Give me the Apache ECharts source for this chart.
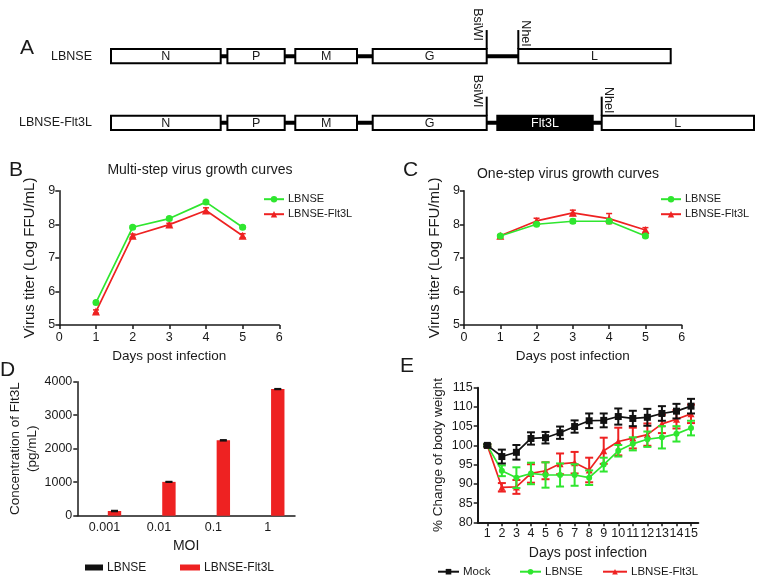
<!DOCTYPE html>
<html><head><meta charset="utf-8">
<script src="https://cdn.jsdelivr.net/npm/echarts@6/dist/echarts.min.js"></script>
<style>html,body{margin:0;padding:0;background:#fff}#c{width:760px;height:588px}</style>
</head><body><div id="c"></div>
<script>
// ---------- Panel A: genome schematic (schematic units) ----------
const constructs = ['LBNSE', 'LBNSE-Flt3L'];
const genesLBNSE = [['N', 0, 109.7], ['P', 116.4, 173.7], ['M', 184.3, 246], ['G', 261.7, 375.7], ['L', 407.3, 559.7]];
const genesFlt3L = [['N', 0, 109.7], ['P', 116.4, 173.7], ['M', 184.3, 246], ['G', 261.7, 375.7], ['Flt3L', 386.3, 481.7], ['L', 490.7, 643]];
const insertedGenes = ['Flt3L'];
const sitesLBNSE = [['BsiWI', 375.7], ['NheI', 407.3]];
const sitesFlt3L = [['BsiWI', 375.7], ['NheI', 490.7]];

// ---------- Panels B, C: growth curves ----------
const daysBC = [1, 2, 3, 4, 5];
const multiLBNSE = [5.67, 7.91, 8.17, 8.66, 7.91];
const multiLBNSEsd = [0.04, 0.04, 0.04, 0.04, 0.04];
const multiFlt3L = [5.40, 7.66, 7.99, 8.41, 7.66];
const multiFlt3Lsd = [0.05, 0.05, 0.04, 0.08, 0.06];
const oneLBNSE = [7.65, 8.00, 8.09, 8.09, 7.65];
const oneLBNSEsd = [0.03, 0.04, 0.06, 0.06, 0.04];
const oneFlt3L = [7.66, 8.10, 8.34, 8.17, 7.83];
const oneFlt3Lsd = [0.03, 0.08, 0.08, 0.15, 0.07];

// ---------- Panel D: Flt3L concentration ----------
const mois = ['0.001', '0.01', '0.1', '1'];
const concLBNSE = [0, 0, 0, 0];
const concFlt3L = [140, 1010, 2250, 3780];
const concFlt3Lsd = [15, 10, 15, 12];

// ---------- Panel E: body weight ----------
const daysE = [1, 2, 3, 4, 5, 6, 7, 8, 9, 10, 11, 12, 13, 14, 15];
const wMock = [100, 97.1, 98.2, 101.8, 102.0, 103.3, 104.9, 106.4, 106.5, 107.5, 107.0, 107.3, 108.3, 108.9, 110.2];
const wMockSd = [0.3, 1.8, 1.9, 1.6, 1.5, 1.6, 1.6, 1.9, 1.8, 2.1, 2.0, 2.2, 1.9, 1.9, 1.9];
const wLBNSE = [100, 93.4, 91.6, 92.7, 92.3, 92.3, 92.3, 91.6, 95.0, 98.6, 100.4, 101.6, 102.1, 103.0, 104.5];
const wLBNSESd = [0.3, 1.4, 2.7, 2.8, 3.3, 3.0, 2.8, 1.9, 1.8, 1.5, 1.7, 2.0, 2.9, 2.0, 1.9];
const wFlt3L = [100, 89.1, 89.2, 92.7, 93.4, 95.2, 95.5, 93.6, 98.6, 101.0, 101.9, 102.8, 105.6, 106.8, 108.2];
const wFlt3LSd = [0.3, 1.1, 1.8, 2.4, 2.2, 2.7, 2.8, 3.2, 3.4, 3.6, 2.7, 2.9, 2.4, 2.4, 2.4];

// ---------- styles ----------
const FF = '"Liberation Sans", Arial, Helvetica, sans-serif';
const TXT = '#1a1a1a';
const AX = '#1a1a1a';
const GREEN = '#2fe62f';
const RED = '#ee2222';
const BLACK = '#111111';

const chart = echarts.init(document.getElementById('c'), null, {renderer: 'canvas'});

function valAxis(gridIndex, min, max, interval, extra) {
  return Object.assign({
    type: 'value', gridIndex, min, max, interval,
    axisLine: {show: true, onZero: false, lineStyle: {color: AX, width: 1.5}},
    axisTick: {show: true, length: 4, lineStyle: {color: AX, width: 1.5}},
    axisLabel: {color: TXT, fontSize: 12, margin: 5, fontFamily: FF},
    splitLine: {show: false},
    nameLocation: 'middle',
    nameTextStyle: {color: TXT, fontSize: 13.5, fontFamily: FF}
  }, extra || {});
}

// ---------- panel A rendering ----------
const BOX_H = 14.3;
const geneRows = [genesLBNSE, genesFlt3L];
const siteRows = [sitesLBNSE, sitesFlt3L];
const geneItems = [];
geneRows.forEach((g, r) => g.forEach(x => geneItems.push({name: x[0], value: [x[1], r, x[2]]})));
const backboneItems = geneRows.map((g, r) => ({value: [Math.min(...g.map(x => x[1])), r, Math.max(...g.map(x => x[2]))]}));
const siteItems = [];
siteRows.forEach((s, r) => s.forEach(x => siteItems.push({name: x[0], value: [x[1], r]})));
const siteLabelOffset = {BsiWI: {dx: -9, dy: -24.5}, NheI: {dx: 7, dy: -15.5}};

function renderBackbone(params, api) {
  const a = api.coord([api.value(0), api.value(1)]);
  const b = api.coord([api.value(2), api.value(1)]);
  return {type: 'line', shape: {x1: a[0], y1: a[1], x2: b[0], y2: b[1]}, style: {stroke: '#000', lineWidth: 4}};
}
function renderGene(params, api) {
  const item = geneItems[params.dataIndex];
  const a = api.coord([api.value(0), api.value(1)]);
  const b = api.coord([api.value(2), api.value(1)]);
  const ins = insertedGenes.indexOf(item.name) >= 0;
  return {type: 'group', children: [
    {type: 'rect', shape: {x: a[0], y: a[1] - BOX_H / 2, width: b[0] - a[0], height: BOX_H},
      style: {fill: ins ? '#000' : '#fff', stroke: '#000', lineWidth: 2}},
    {type: 'text', x: (a[0] + b[0]) / 2, y: a[1] + 0.5,
      style: {text: item.name, fill: ins ? '#fff' : TXT, font: '12.5px ' + FF, align: 'center', verticalAlign: 'middle'}}
  ]};
}
function renderSite(params, api) {
  const item = siteItems[params.dataIndex];
  const p = api.coord([api.value(0), api.value(1)]);
  const top = p[1] - BOX_H / 2;
  const off = siteLabelOffset[item.name];
  return {type: 'group', children: [
    {type: 'line', shape: {x1: p[0], y1: top, x2: p[0], y2: top - 19}, style: {stroke: '#000', lineWidth: 2}},
    {type: 'text', x: p[0] + off.dx, y: top + off.dy, rotation: -Math.PI / 2,
      style: {text: item.name, fill: TXT, font: '12.5px ' + FF, align: 'center', verticalAlign: 'middle'}}
  ]};
}

// ---------- error bars ----------
function errBars(xi, yi, xs, ys, sd, color, capW, lw, z, xOffset) {
  return {
    type: 'custom', xAxisIndex: xi, yAxisIndex: yi, z: z, silent: true,
    encode: {x: 0, y: [1, 2]},
    data: xs.map((x, i) => [x, ys[i] - sd[i], ys[i] + sd[i]]),
    renderItem: function (params, api) {
      const lo = api.coord([api.value(0), api.value(1)]);
      const hi = api.coord([api.value(0), api.value(2)]);
      const dx = xOffset || 0;
      const x = lo[0] + dx;
      const st = {stroke: color, lineWidth: lw};
      return {type: 'group', children: [
        {type: 'line', shape: {x1: x, y1: lo[1], x2: x, y2: hi[1]}, style: st},
        {type: 'line', shape: {x1: x - capW / 2, y1: lo[1], x2: x + capW / 2, y2: lo[1]}, style: st},
        {type: 'line', shape: {x1: x - capW / 2, y1: hi[1], x2: x + capW / 2, y2: hi[1]}, style: st}
      ]};
    }
  };
}
function lineSeries(name, xi, yi, xs, ys, color, symbol, size, z) {
  return {type: 'line', name, xAxisIndex: xi, yAxisIndex: yi, z: z,
    data: xs.map((x, i) => [x, ys[i]]),
    symbol, symbolSize: size, showSymbol: true,
    lineStyle: {color, width: 1.7}, itemStyle: {color, borderWidth: 0}};
}
function leg(name, left, cy, fs, iw, ih, icon) {
  return {left, top: cy - 7, padding: 0, itemWidth: iw, itemHeight: ih, itemGap: 0,
    data: [icon ? {name, icon} : name], selectedMode: false,
    formatter: n => n.split('|')[1],
    textStyle: {fontSize: fs, color: TXT, fontFamily: FF, padding: [0, 0, 0, -1]}};
}

const BAR_W = 13.4, BAR_GAP = 0.49;
const axE = {show: true, onZero: false, lineStyle: {color: AX, width: 2}};

const option = {
  animation: false,
  backgroundColor: '#fff',
  textStyle: {fontFamily: FF},
  grid: [
    {left: 111, top: 22.9, width: 643, height: 133.2},      // A
    {left: 59.3, top: 190.7, width: 220, height: 134.3},   // B
    {left: 464, top: 190.7, width: 217.7, height: 134.3},  // C
    {left: 77.3, top: 381.7, width: 217.7, height: 134},   // D
    {left: 477.7, top: 387.7, width: 220.6, height: 134.6} // E
  ],
  xAxis: [
    {type: 'value', gridIndex: 0, min: 0, max: 643, show: false},
    valAxis(1, 0, 6, 1, {name: 'Days post infection', nameGap: 24, axisLabel: {color: TXT, fontSize: 12.5, margin: 6, fontFamily: FF}}),
    valAxis(2, 0, 6, 1, {name: 'Days post infection', nameGap: 24, axisLabel: {color: TXT, fontSize: 12.5, margin: 6, fontFamily: FF}}),
    {type: 'category', gridIndex: 3, data: mois, name: 'MOI', nameLocation: 'middle', nameGap: 23,
      nameTextStyle: {color: TXT, fontSize: 14, fontFamily: FF},
      axisLine: {show: true, onZero: false, lineStyle: {color: AX, width: 1.5}}, axisTick: {show: false},
      axisLabel: {color: TXT, fontSize: 12.5, margin: 5, fontFamily: FF}},
    valAxis(4, 0.34, 15.5, 1, {name: 'Days post infection', nameGap: 24, axisLine: axE,
      nameTextStyle: {color: TXT, fontSize: 14, fontFamily: FF},
      axisLabel: {color: TXT, fontSize: 12.5, margin: 5, fontFamily: FF, customValues: daysE},
      axisTick: {show: true, length: 4, lineStyle: {color: AX, width: 1.5}, customValues: daysE}})
  ],
  yAxis: [
    {type: 'category', gridIndex: 0, data: constructs, inverse: true, axisLine: {show: false}, axisTick: {show: false},
      axisLabel: {color: TXT, fontSize: 12.5, margin: 19, fontFamily: FF}, splitLine: {show: false}},
    valAxis(1, 5, 9, 1, {name: 'Virus titer (Log FFU/mL)', nameGap: 22, nameTextStyle: {color: TXT, fontSize: 15, fontFamily: FF},
      axisLabel: {color: TXT, fontSize: 12.5, margin: 4, fontFamily: FF}}),
    valAxis(2, 5, 9, 1, {name: 'Virus titer (Log FFU/mL)', nameGap: 22, nameTextStyle: {color: TXT, fontSize: 15, fontFamily: FF},
      axisLabel: {color: TXT, fontSize: 12.5, margin: 4, fontFamily: FF}}),
    valAxis(3, 0, 4000, 1000, {name: 'Concentration of Flt3L\n(pg/mL)', nameGap: 37,
      nameTextStyle: {color: TXT, fontSize: 13.5, fontFamily: FF, lineHeight: 17},
      axisLabel: {color: TXT, fontSize: 12.5, margin: 5, fontFamily: FF, formatter: v => String(v)}}),
    valAxis(4, 80, 115, 5, {name: '% Change of body weight', nameGap: 32, axisLine: axE,
      nameTextStyle: {color: TXT, fontSize: 13.5, fontFamily: FF},
      axisLabel: {color: TXT, fontSize: 12.5, margin: 5, fontFamily: FF}})
  ],
  legend: [
    leg('B|LBNSE', 263, 200.7, 11, 20, 8),
    leg('B|LBNSE-Flt3L', 263, 215.7, 11, 20, 8),
    leg('C|LBNSE', 660, 200.7, 11, 20, 8),
    leg('C|LBNSE-Flt3L', 660, 215.7, 11, 20, 8),
    leg('D|LBNSE', 85, 568.5, 12, 18, 6, 'rect'),
    leg('D|LBNSE-Flt3L', 180, 568.5, 12, 20, 6, 'rect'),
    leg('E|Mock', 437, 572.7, 11.5, 21, 7),
    leg('E|LBNSE', 519, 572.7, 11.5, 21, 7),
    leg('E|LBNSE-Flt3L', 602, 572.7, 11.5, 24, 7)
  ],
  graphic: [
    {type: 'text', x: 20, y: 48, style: {text: 'A', font: '21px ' + FF, fill: TXT, align: 'left', verticalAlign: 'middle'}},
    {type: 'text', x: 9, y: 170, style: {text: 'B', font: '21px ' + FF, fill: TXT, align: 'left', verticalAlign: 'middle'}},
    {type: 'text', x: 403, y: 170, style: {text: 'C', font: '21px ' + FF, fill: TXT, align: 'left', verticalAlign: 'middle'}},
    {type: 'text', x: 0, y: 370, style: {text: 'D', font: '21px ' + FF, fill: TXT, align: 'left', verticalAlign: 'middle'}},
    {type: 'text', x: 400, y: 366, style: {text: 'E', font: '21px ' + FF, fill: TXT, align: 'left', verticalAlign: 'middle'}},
    {type: 'text', x: 200, y: 170, style: {text: 'Multi-step virus growth curves', font: '14px ' + FF, fill: TXT, align: 'center', verticalAlign: 'middle'}},
    {type: 'text', x: 568, y: 174, style: {text: 'One-step virus growth curves', font: '14px ' + FF, fill: TXT, align: 'center', verticalAlign: 'middle'}}
  ],
  series: [
    // A
    {type: 'custom', xAxisIndex: 0, yAxisIndex: 0, z: 1, silent: true, data: backboneItems, renderItem: renderBackbone},
    {type: 'custom', xAxisIndex: 0, yAxisIndex: 0, z: 2, silent: true, data: geneItems, renderItem: renderGene},
    {type: 'custom', xAxisIndex: 0, yAxisIndex: 0, z: 3, silent: true, data: siteItems, renderItem: renderSite},
    // B
    errBars(1, 1, daysBC, multiFlt3L, multiFlt3Lsd, RED, 6, 1.5, 2),
    lineSeries('B|LBNSE-Flt3L', 1, 1, daysBC, multiFlt3L, RED, 'triangle', 8, 2),
    errBars(1, 1, daysBC, multiLBNSE, multiLBNSEsd, GREEN, 6, 1.5, 3),
    lineSeries('B|LBNSE', 1, 1, daysBC, multiLBNSE, GREEN, 'circle', 7, 3),
    // C
    errBars(2, 2, daysBC, oneFlt3L, oneFlt3Lsd, RED, 6, 1.5, 2),
    lineSeries('C|LBNSE-Flt3L', 2, 2, daysBC, oneFlt3L, RED, 'triangle', 8, 2),
    errBars(2, 2, daysBC, oneLBNSE, oneLBNSEsd, GREEN, 6, 1.5, 3),
    lineSeries('C|LBNSE', 2, 2, daysBC, oneLBNSE, GREEN, 'circle', 7, 3),
    // D
    {type: 'bar', name: 'D|LBNSE', xAxisIndex: 3, yAxisIndex: 3, data: concLBNSE, barWidth: BAR_W, barGap: (BAR_GAP * 100) + '%', itemStyle: {color: BLACK}},
    {type: 'bar', name: 'D|LBNSE-Flt3L', xAxisIndex: 3, yAxisIndex: 3, data: concFlt3L, barWidth: BAR_W, barGap: (BAR_GAP * 100) + '%', itemStyle: {color: RED}},
    errBars(3, 3, mois.map((m, i) => i), concFlt3L, concFlt3Lsd, BLACK, 7, 1.5, 5, (BAR_W + BAR_W * BAR_GAP) / 2),
    // E
    errBars(4, 4, daysE, wFlt3L, wFlt3LSd, RED, 8, 2, 2),
    lineSeries('E|LBNSE-Flt3L', 4, 4, daysE, wFlt3L, RED, 'triangle', 7, 2),
    errBars(4, 4, daysE, wLBNSE, wLBNSESd, GREEN, 8, 2, 3),
    lineSeries('E|LBNSE', 4, 4, daysE, wLBNSE, GREEN, 'circle', 6, 3),
    errBars(4, 4, daysE, wMock, wMockSd, BLACK, 8, 2, 4),
    lineSeries('E|Mock', 4, 4, daysE, wMock, BLACK, 'rect', 7, 4)
  ]
};
chart.setOption(option);
</script>
</body></html>
